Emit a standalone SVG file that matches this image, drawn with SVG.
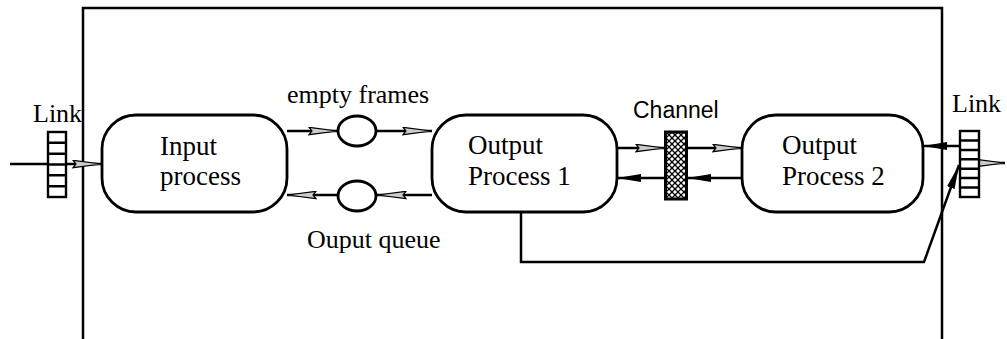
<svg xmlns="http://www.w3.org/2000/svg" width="1007" height="339" viewBox="0 0 1007 339">
<style>
.ln{fill:none;stroke:#000;stroke-width:2.5}
.node{fill:#fff;stroke:#000;stroke-width:2.8}
.t{font-family:"Liberation Serif","Times New Roman",serif;font-size:26px;fill:#000}
.n{font-size:27px}
.s{font-family:"Liberation Sans",Arial,sans-serif;font-size:23px;fill:#000}
.cell{fill:#fff;stroke:#000;stroke-width:2.4}
</style>
<defs>
<marker id="ag" viewBox="0 0 30 9" refX="30" refY="4.5" markerWidth="30" markerHeight="9" markerUnits="userSpaceOnUse" orient="auto">
<path d="M1,0.8 L29.5,4.5 L1,8.2 L4,4.5 Z" fill="#ccc" stroke="#000" stroke-width="1.2"/>
</marker>
<marker id="ab" viewBox="0 0 24 9" refX="24" refY="4.5" markerWidth="24" markerHeight="9" markerUnits="userSpaceOnUse" orient="auto">
<path d="M0,0.5 L24,4.5 L0,8.5 Z" fill="#000"/>
</marker>
<pattern id="hatch" width="6" height="6" patternUnits="userSpaceOnUse">
<rect width="6" height="6" fill="#fff"/>
<path d="M0,0 L6,6 M6,0 L0,6" stroke="#000" stroke-width="1.3"/>
</pattern>
</defs>

<g id="frame">
<path class="ln" d="M83,339 V8 H942 V339"/>
</g>

<g id="connectors">
<path class="ln" d="M10,164 H48"/>
<path class="ln" d="M66,164 H102" marker-end="url(#ag)"/>
<path class="ln" d="M287,131 H338" marker-end="url(#ag)"/>
<path class="ln" d="M377,131 H432" marker-end="url(#ag)"/>
<path class="ln" d="M432,195 H377" marker-end="url(#ag)"/>
<path class="ln" d="M338,195 H287" marker-end="url(#ag)"/>
<path class="ln" d="M617,148 H665" marker-end="url(#ag)"/>
<path class="ln" d="M687,148 H742" marker-end="url(#ag)"/>
<path class="ln" d="M742,178 H687" marker-end="url(#ab)"/>
<path class="ln" d="M665,178 H617" marker-end="url(#ab)"/>
<path class="ln" d="M959,146 H923" marker-end="url(#ab)"/>
<path class="ln" d="M980,163 H1005" marker-end="url(#ag)"/>
<path class="ln" d="M521,212 V262 H924 L959,165" marker-end="url(#ab)"/>
</g>

<g id="link-left">
<rect class="cell" x="48" y="132" width="18" height="65"/>
<path class="ln" stroke-width="2" d="M48,142.8 H66 M48,153.7 H66 M48,164.5 H66 M48,175.3 H66 M48,186.2 H66"/>
<text class="t" x="33" y="122" font-size="25">Link</text>
</g>

<g id="link-right">
<rect class="cell" x="960" y="131" width="19" height="66"/>
<path class="ln" stroke-width="2" d="M960,140.4 H979 M960,149.9 H979 M960,159.3 H979 M960,168.7 H979 M960,178.1 H979 M960,187.6 H979"/>
<text class="t" x="952" y="112" font-size="25">Link</text>
</g>

<g id="input-process">
<rect class="node" x="102" y="115" width="185" height="97" rx="34" ry="34"/>
<text class="t n" x="160" y="155">Input</text>
<text class="t n" x="160" y="185">process</text>
</g>

<g id="empty-frames">
<ellipse class="node" cx="357" cy="131" rx="19" ry="15"/>
<text class="t" x="287" y="103">empty frames</text>
</g>

<g id="output-queue">
<ellipse class="node" cx="357" cy="196" rx="19" ry="15"/>
<text class="t" x="307" y="248">Ouput queue</text>
</g>

<g id="output-process-1">
<rect class="node" x="432" y="115" width="185" height="97" rx="34" ry="34"/>
<text class="t n" x="468" y="154">Output</text>
<text class="t n" x="468" y="185">Process 1</text>
</g>

<g id="channel">
<rect x="665.5" y="132" width="21" height="67" fill="url(#hatch)" stroke="#000" stroke-width="3"/>
<text class="s" x="633" y="118">Channel</text>
</g>

<g id="output-process-2">
<rect class="node" x="742" y="115" width="181" height="97" rx="34" ry="34"/>
<text class="t n" x="782" y="154">Output</text>
<text class="t n" x="782" y="185">Process 2</text>
</g>
</svg>
